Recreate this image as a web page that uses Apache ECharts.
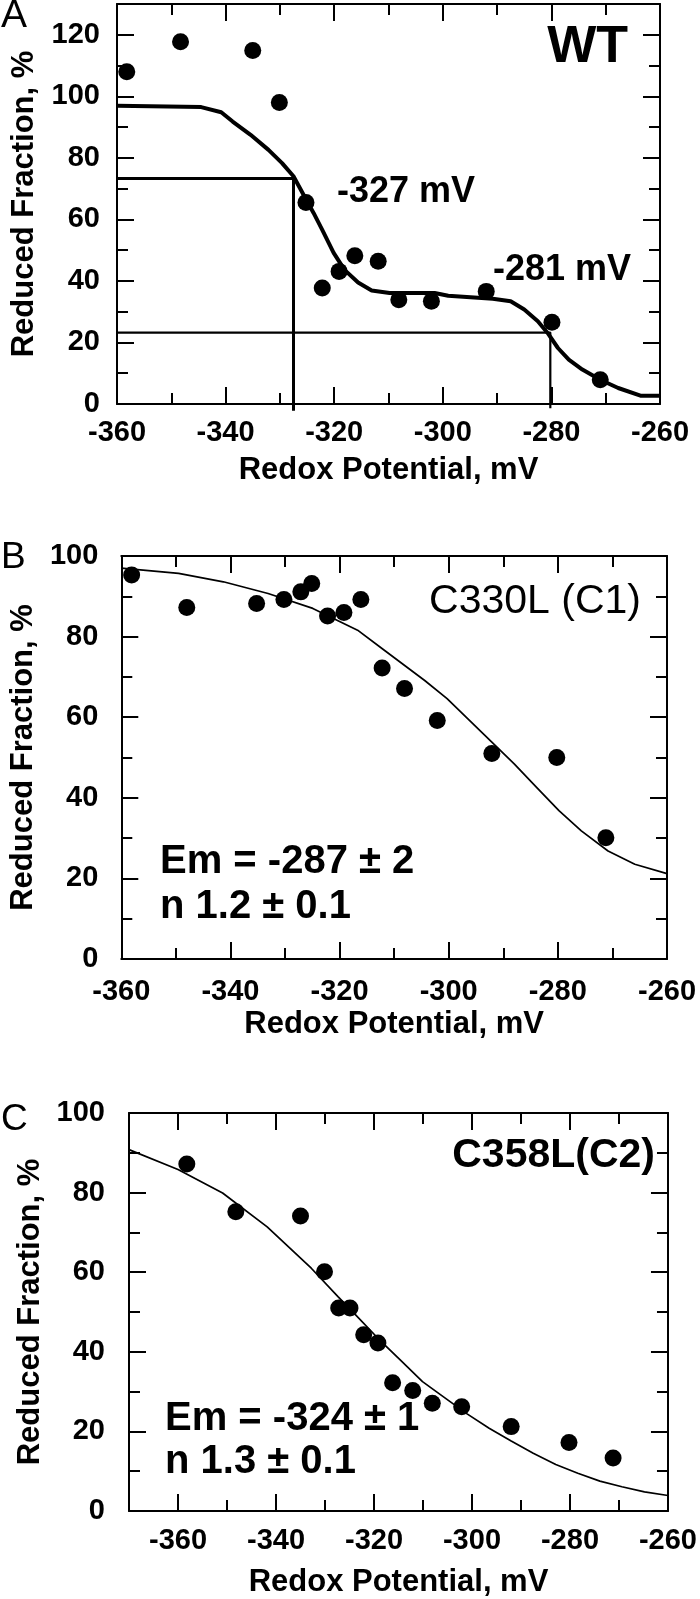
<!DOCTYPE html>
<html><head><meta charset="utf-8">
<script src="https://cdn.jsdelivr.net/npm/echarts@6/dist/echarts.min.js"></script>
<style>html,body{margin:0;padding:0;background:#fff}#c{width:700px;height:1599px}</style>
</head><body><div id="c"></div>
<script>
// ---- tick values ----
const xMajorTicks = [-360, -340, -320, -300, -280, -260];
const xMinorTicksAB = [-350, -330, -310, -290, -270];
const xMinorTicksC = [-370, -350, -330, -310, -290, -270];
const yMajorTicksA = [0, 20, 40, 60, 80, 100, 120];
const yMinorTicksA = [10, 30, 50, 70, 90, 110];
const yMajorTicksBC = [0, 20, 40, 60, 80, 100];
const yMinorTicksBC = [10, 30, 50, 70, 90];

// ---- Panel A (WT) ----
const wtPotential = [-358.2, -348.3, -335.0, -330.1, -325.2, -322.2, -319.1, -316.2, -311.9, -308.1, -302.1, -292.0, -279.9, -271.0];
const wtReduced   = [108.0, 117.7, 114.9, 98.0, 65.5, 37.7, 43.1, 48.2, 46.4, 33.9, 33.4, 36.6, 26.6, 7.9];
const wtFitPotential = [-360, -344.5, -340.8, -338.7, -335.4, -332.1, -329.6, -327.5, -325.5, -323.8, -322.2, -320.1, -318.1, -315.6, -313.1, -309.8, -301.5, -299.0, -290.8, -287.5, -285.0, -282.5, -280.7, -278.8, -276.8, -274.3, -271.0, -267.7, -263.6, -260];
const wtFitReduced   = [96.9, 96.5, 94.8, 91.8, 87.5, 82.6, 78.3, 74.0, 67.5, 62.1, 56.6, 49.1, 43.6, 39.5, 36.9, 36.1, 36.1, 35.2, 34.2, 33.4, 30.7, 26.9, 23.1, 18.2, 14.4, 11.2, 7.9, 5.2, 2.7, 2.7];
const wtEm1 = -327.5, wtEm1Level = 73.3;
const wtEm2 = -280.2, wtEm2Level = 23.2;

// ---- Panel B (C330L) ----
const c1Potential = [-358.1, -348.0, -335.2, -330.2, -327.1, -325.1, -322.2, -319.2, -316.1, -312.2, -308.1, -302.1, -292.1, -280.2, -271.2];
const c1Reduced   = [95.3, 87.2, 88.2, 89.2, 91.1, 93.2, 85.1, 86.0, 89.2, 72.2, 67.1, 59.2, 51.0, 50.0, 30.1];
const c1FitPotential = [-360, -349.5, -341.3, -333.1, -324.9, -316.7, -311.8, -304.4, -300.3, -296.2, -292.1, -288.0, -283.9, -279.8, -275.7, -270.8, -265.9, -260];
const c1FitReduced   = [97.0, 95.7, 93.6, 90.7, 87.0, 81.6, 76.6, 69.1, 64.6, 59.2, 53.8, 48.4, 42.6, 36.8, 31.8, 26.8, 23.5, 21.2];

// ---- Panel C (C358L) ----
const c2Potential = [-358.2, -348.2, -335.0, -330.1, -327.2, -324.9, -322.1, -319.2, -316.2, -312.1, -308.1, -302.1, -292.0, -280.2, -271.2];
const c2Reduced   = [87.2, 75.2, 74.1, 60.1, 51.0, 51.0, 44.3, 42.2, 32.2, 30.3, 27.1, 26.2, 21.2, 17.2, 13.3];
const c2FitPotential = [-370, -360, -350.9, -341.8, -332.8, -327.3, -323.7, -319.2, -314.6, -310.1, -305.6, -301.0, -296.5, -292.0, -287.5, -282.9, -278.4, -273.9, -269.4, -264.8, -260];
const c2FitReduced   = [90.8, 85.8, 79.9, 71.4, 61.0, 53.8, 49.2, 43.4, 37.9, 32.5, 28.5, 24.4, 20.8, 17.6, 14.5, 11.7, 9.5, 7.5, 6.1, 4.8, 3.9];

const FONT = "'Liberation Sans', Arial, Helvetica, sans-serif";
const zip = (xs, ys) => xs.map((x, i) => [x, ys[i]]);

const panels = [
  { grid: { left: 117, top: 4, width: 543, height: 400 }, xMin: -360, xMax: -260, yMin: 0, yMax: 130,
    xMinor: xMinorTicksAB, yMajor: yMajorTicksA, yMinor: yMinorTicksA, xLabelMargin: 14, xNameGap: 51, yLabelMargin: 17, yNameGap: 77 },
  { grid: { left: 121, top: 556, width: 546, height: 403 }, xMin: -360, xMax: -260, yMin: 0, yMax: 100,
    xMinor: xMinorTicksAB, yMajor: yMajorTicksBC, yMinor: yMinorTicksBC, xLabelMargin: 18, xNameGap: 50, yLabelMargin: 23, yNameGap: 81 },
  { grid: { left: 129, top: 1113, width: 541, height: 400 }, xMin: -370, xMax: -260, yMin: 0, yMax: 100,
    xMinor: xMinorTicksC, yMajor: yMajorTicksBC, yMinor: yMinorTicksBC, xLabelMargin: 15, xNameGap: 56, yLabelMargin: 24, yNameGap: 78 }
];

const labelStyle = { color: '#000', fontFamily: FONT, fontWeight: 'bold', fontSize: 29 };
const nameStyle = { color: '#000', fontFamily: FONT, fontWeight: 'bold', fontSize: 31 };
const lineSt = { color: '#000', width: 2 };

const xAxes = [], yAxes = [];
panels.forEach((p, g) => {
  const common = (min, max) => ({ type: 'value', gridIndex: g, min, max, splitLine: { show: false }, axisPointer: { show: false } });
  xAxes.push(Object.assign(common(p.xMin, p.xMax), {
    position: 'bottom',
    axisLine: { show: true, onZero: false, lineStyle: lineSt },
    axisTick: { show: true, inside: true, length: 17, customValues: xMajorTicks, lineStyle: lineSt },
    axisLabel: { show: true, customValues: xMajorTicks, margin: p.xLabelMargin, ...labelStyle },
    name: 'Redox Potential, mV', nameLocation: 'middle', nameGap: p.xNameGap, nameTextStyle: nameStyle
  }));
  xAxes.push(Object.assign(common(p.xMin, p.xMax), {
    position: 'bottom',
    axisLine: { show: false, onZero: false },
    axisTick: { show: true, inside: true, length: 11, customValues: p.xMinor, lineStyle: lineSt },
    axisLabel: { show: false }
  }));
  xAxes.push(Object.assign(common(p.xMin, p.xMax), {
    position: 'top',
    axisLine: { show: true, onZero: false, lineStyle: lineSt },
    axisTick: { show: true, inside: true, length: 17, customValues: xMajorTicks, lineStyle: lineSt },
    axisLabel: { show: false }
  }));
  xAxes.push(Object.assign(common(p.xMin, p.xMax), {
    position: 'top',
    axisLine: { show: false, onZero: false },
    axisTick: { show: true, inside: true, length: 11, customValues: p.xMinor, lineStyle: lineSt },
    axisLabel: { show: false }
  }));
  yAxes.push(Object.assign(common(p.yMin, p.yMax), {
    position: 'left',
    axisLine: { show: true, onZero: false, lineStyle: lineSt },
    axisTick: { show: true, inside: true, length: 17, customValues: p.yMajor, lineStyle: lineSt },
    axisLabel: { show: true, customValues: p.yMajor, margin: p.yLabelMargin, ...labelStyle },
    name: 'Reduced Fraction, %', nameLocation: 'middle', nameGap: p.yNameGap, nameRotate: 90, nameTextStyle: nameStyle
  }));
  yAxes.push(Object.assign(common(p.yMin, p.yMax), {
    position: 'left',
    axisLine: { show: false, onZero: false },
    axisTick: { show: true, inside: true, length: 11, customValues: p.yMinor, lineStyle: lineSt },
    axisLabel: { show: false }
  }));
  yAxes.push(Object.assign(common(p.yMin, p.yMax), {
    position: 'right',
    axisLine: { show: true, onZero: false, lineStyle: lineSt },
    axisTick: { show: true, inside: true, length: 17, customValues: p.yMajor, lineStyle: lineSt },
    axisLabel: { show: false }
  }));
  yAxes.push(Object.assign(common(p.yMin, p.yMax), {
    position: 'right',
    axisLine: { show: false, onZero: false },
    axisTick: { show: true, inside: true, length: 11, customValues: p.yMinor, lineStyle: lineSt },
    axisLabel: { show: false }
  }));
});

const scatter = (g, xs, ys) => ({
  type: 'scatter', xAxisIndex: g * 4, yAxisIndex: g * 4, data: zip(xs, ys),
  symbol: 'circle', symbolSize: 17, itemStyle: { color: '#000', opacity: 1 }, z: 5, silent: true
});
const curve = (g, xs, ys, w) => ({
  type: 'line', xAxisIndex: g * 4, yAxisIndex: g * 4, data: zip(xs, ys),
  showSymbol: false, symbol: 'none', smooth: false, lineStyle: { color: '#000', width: w }, z: 4, silent: true
});
const guide = (pts, w) => ({
  type: 'line', xAxisIndex: 0, yAxisIndex: 0, data: pts, clip: false,
  showSymbol: false, symbol: 'none', lineStyle: { color: '#000', width: w }, z: 3, silent: true
});

const series = [
  guide([[-360, wtEm1Level], [wtEm1, wtEm1Level], [wtEm1, -2.2]], 3),
  guide([[-360, wtEm2Level], [wtEm2, wtEm2Level], [wtEm2, -1.4]], 2.2),
  curve(0, wtFitPotential, wtFitReduced, 4),
  scatter(0, wtPotential, wtReduced),
  curve(1, c1FitPotential, c1FitReduced, 1.7),
  scatter(1, c1Potential, c1Reduced),
  curve(2, c2FitPotential, c2FitReduced, 1.7),
  scatter(2, c2Potential, c2Reduced)
];

const txt = (text, x, y, size, weight, align) => ({
  type: 'text', x, y, silent: true,
  style: { text, fill: '#000', font: `${weight} ${size}px ${FONT}`, textAlign: align, textVerticalAlign: 'middle' }
});

const graphic = [
  txt('A', 1, 16, 39, 'normal', 'left'),
  txt('B', 1, 558, 37, 'normal', 'left'),
  txt('C', 1, 1120, 37, 'normal', 'left'),
  txt('WT', 628, 47.5, 52, 'bold', 'right'),
  txt('-327 mV', 337, 192.5, 36, 'bold', 'left'),
  txt('-281 mV', 493, 270, 36, 'bold', 'left'),
  txt('C330L (C1)', 641, 602, 41, 'normal', 'right'),
  txt('Em = -287 \u00b1 2', 160, 862, 40, 'bold', 'left'),
  txt('n 1.2 \u00b1 0.1', 160, 907, 40, 'bold', 'left'),
  txt('C358L(C2)', 655, 1156, 41, 'bold', 'right'),
  txt('Em = -324 \u00b1 1', 165, 1419, 40, 'bold', 'left'),
  txt('n 1.3 \u00b1 0.1', 165, 1462, 40, 'bold', 'left')
];

const chart = echarts.init(document.getElementById('c'), null, { renderer: 'canvas' });
chart.setOption({
  animation: false,
  backgroundColor: '#fff',
  grid: panels.map(p => Object.assign({ containLabel: false }, p.grid)),
  xAxis: xAxes,
  yAxis: yAxes,
  series,
  graphic
});
</script>
</body></html>
